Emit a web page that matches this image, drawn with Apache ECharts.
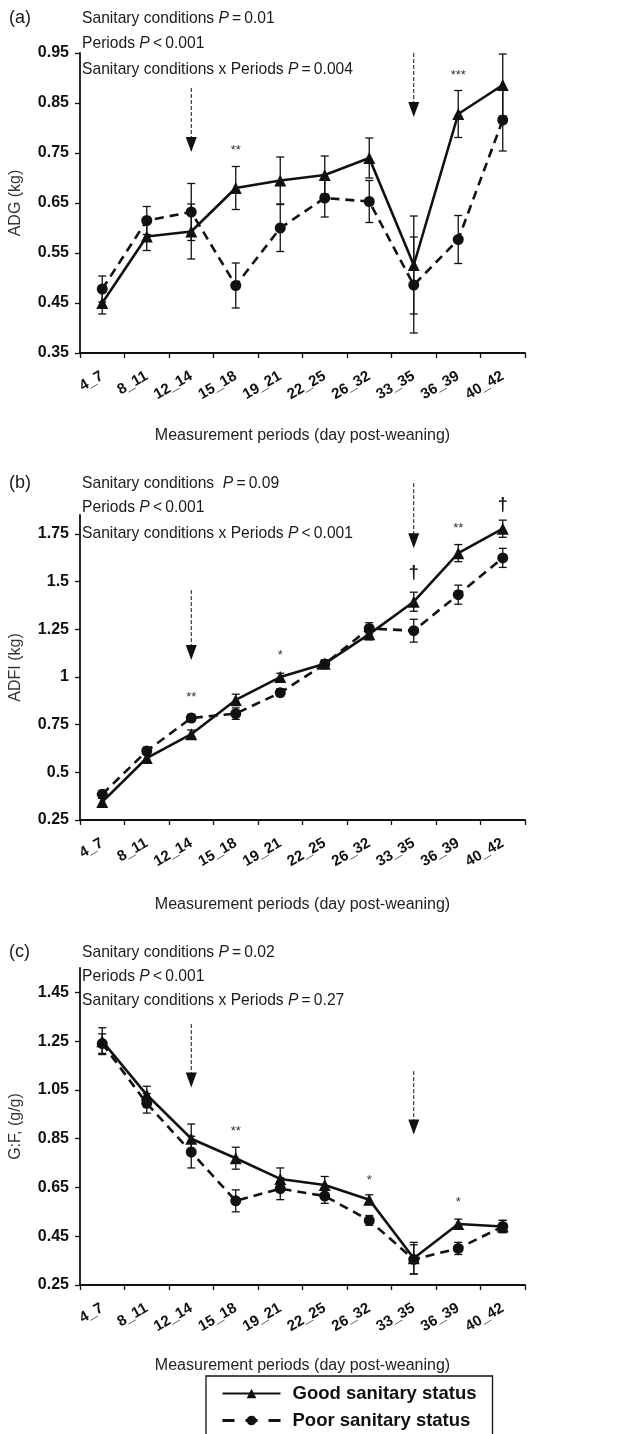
<!DOCTYPE html>
<html>
<head>
<meta charset="utf-8">
<script src="https://cdn.jsdelivr.net/npm/echarts@6.0.0/dist/echarts.min.js"></script>
<style>
  html, body { margin: 0; padding: 0; background: #fff; }
  #chart { width: 619px; height: 1434px; }
</style>
</head>
<body>
<div id="chart"></div>
<script>
const periods = ['4_7', '8_11', '12_14', '15_18', '19_21', '22_25', '26_32', '33_35', '36_39', '40_42'];

// (a) ADG, kg
const adgGood = [0.450, 0.583, 0.593, 0.680, 0.695, 0.706, 0.740, 0.526, 0.828, 0.886];
const adgGoodSe = [0.022, 0.028, 0.055, 0.043, 0.047, 0.038, 0.040, 0.098, 0.047, 0.062];
const adgPoor = [0.478, 0.615, 0.632, 0.485, 0.600, 0.660, 0.653, 0.486, 0.577, 0.816];
const adgPoorSe = [0.026, 0.028, 0.057, 0.045, 0.047, 0.038, 0.042, 0.096, 0.048, 0.062];
const adgTicks = [0.35, 0.45, 0.55, 0.65, 0.75, 0.85, 0.95];

// (b) ADFI, kg
const adfiGood = [0.345, 0.575, 0.700, 0.880, 1.000, 1.070, 1.225, 1.395, 1.650, 1.778];
const adfiGoodSe = [0.02, 0.02, 0.022, 0.03, 0.02, 0.02, 0.03, 0.05, 0.045, 0.045];
const adfiPoor = [0.385, 0.612, 0.785, 0.808, 0.918, 1.068, 1.255, 1.243, 1.432, 1.625];
const adfiPoorSe = [0.02, 0.02, 0.02, 0.03, 0.02, 0.02, 0.03, 0.06, 0.05, 0.05];
const adfiTicks = [0.25, 0.5, 0.75, 1, 1.25, 1.5, 1.75];

// (c) G:F, g/g
const gfGood = [1.250, 1.030, 0.850, 0.770, 0.685, 0.660, 0.600, 0.360, 0.500, 0.490];
const gfGoodSe = [0.055, 0.035, 0.06, 0.045, 0.045, 0.035, 0.02, 0.065, 0.02, 0.025];
const gfPoor = [1.240, 0.995, 0.795, 0.595, 0.645, 0.615, 0.515, 0.355, 0.400, 0.490];
const gfPoorSe = [0.04, 0.04, 0.065, 0.045, 0.045, 0.03, 0.02, 0.06, 0.025, 0.025];
const gfTicks = [0.25, 0.45, 0.65, 0.85, 1.05, 1.25, 1.45];

// significance marks [period, value, text]
const adgStars = [['15_18', 0.756, '**'], ['36_39', 0.906, '***']];
const adfiStars = [['12_14', 0.895, '**'], ['19_21', 1.115, '*'], ['33_35', 1.545, '†'], ['36_39', 1.78, '**'], ['40_42', 1.90, '†']];
const gfStars = [['15_18', 0.88, '**'], ['26_32', 0.68, '*'], ['36_39', 0.59, '*']];

// dashed arrows [period, top value, tip value]
const adgArrows = [['12_14', 0.88, 0.752], ['33_35', 0.95, 0.822]];
const adfiArrows = [['12_14', 1.456, 1.089], ['33_35', 2.017, 1.676]];
const gfArrows = [['12_14', 1.32, 1.06], ['33_35', 1.127, 0.867]];

const FONT = '"Liberation Sans", Arial, sans-serif';
const INK = '#111';

function errRender(params, api) {
  const i = api.value(0), m = api.value(1), e = api.value(2);
  const hi = api.coord([i, m + e]);
  const lo = api.coord([i, m - e]);
  const w = 4;
  const st = { stroke: INK, lineWidth: 1.3 };
  return {
    type: 'group',
    children: [
      { type: 'line', shape: { x1: hi[0], y1: hi[1], x2: lo[0], y2: lo[1] }, style: st },
      { type: 'line', shape: { x1: hi[0] - w, y1: hi[1], x2: hi[0] + w, y2: hi[1] }, style: st },
      { type: 'line', shape: { x1: lo[0] - w, y1: lo[1], x2: lo[0] + w, y2: lo[1] }, style: st }
    ]
  };
}

function arrowRender(params, api) {
  const top = api.coord([api.value(0), api.value(1)]);
  const tip = api.coord([api.value(0), api.value(2)]);
  const x = tip[0];
  return {
    type: 'group',
    children: [
      { type: 'line', shape: { x1: x, y1: top[1], x2: x, y2: tip[1] - 13 },
        style: { stroke: INK, lineWidth: 1, lineDash: [4, 2] } },
      { type: 'polygon', shape: { points: [[x - 5.5, tip[1] - 15], [x + 5.5, tip[1] - 15], [x, tip[1]]] },
        style: { fill: INK } }
    ]
  };
}

function starRender(list) {
  return function (params, api) {
    const p = api.coord([api.value(0), api.value(1)]);
    const t = list[params.dataIndex][2];
    const dag = t === '†';
    return {
      type: 'text',
      x: p[0], y: p[1],
      style: {
        text: t, fill: dag ? INK : '#333',
        font: (dag ? 'bold 18px ' : '13px ') + FONT,
        align: 'center', verticalAlign: 'middle'
      }
    };
  };
}

const grids = [], xAxes = [], yAxes = [], series = [];

function panel(k, cfg) {
  grids.push({ left: 74, width: 451, top: cfg.top, height: cfg.height });
  xAxes.push({
    gridIndex: k, type: 'category', data: periods, boundaryGap: true,
    name: 'Measurement periods (day post-weaning)', nameLocation: 'middle', nameGap: cfg.xGap,
    nameTextStyle: { fontFamily: FONT, fontSize: 16, color: '#222' },
    axisLine: { lineStyle: { color: INK, width: 1.8 } },
    axisTick: { show: true, length: 5, lineStyle: { color: INK, width: 1.3 } },
    axisLabel: { rotate: 30, margin: 22, fontFamily: FONT, fontSize: 15, fontWeight: 'bold', color: INK, interval: 0 },
    splitLine: { show: false }
  });
  yAxes.push({
    gridIndex: k, type: 'value', min: cfg.min, max: cfg.max,
    name: cfg.yName, nameLocation: 'middle', nameGap: 56,
    nameTextStyle: { fontFamily: FONT, fontSize: 16, color: '#333' },
    axisLine: { show: true, lineStyle: { color: INK, width: 1.8 } },
    axisTick: { show: true, length: 5, customValues: cfg.ticks, lineStyle: { color: INK, width: 1.3 } },
    axisLabel: { customValues: cfg.ticks, margin: 11, fontFamily: FONT, fontSize: 16, fontWeight: 'bold', color: INK },
    splitLine: { show: false }
  });
  const idx = (p) => periods.indexOf(p);
  series.push(
    {
      type: 'custom', xAxisIndex: k, yAxisIndex: k, renderItem: errRender, z: 2,
      data: cfg.good.map((v, i) => [i, v, cfg.goodSe[i]])
    },
    {
      type: 'custom', xAxisIndex: k, yAxisIndex: k, renderItem: errRender, z: 2,
      data: cfg.poor.map((v, i) => [i, v, cfg.poorSe[i]])
    },
    {
      name: 'Good sanitary status', type: 'line', xAxisIndex: k, yAxisIndex: k, z: 3,
      data: cfg.good, symbol: 'triangle', symbolSize: 12,
      itemStyle: { color: INK }, lineStyle: { color: INK, width: 2.6 }
    },
    {
      name: 'Poor sanitary status', type: 'line', xAxisIndex: k, yAxisIndex: k, z: 3,
      data: cfg.poor, symbol: 'circle', symbolSize: 11,
      itemStyle: { color: INK }, lineStyle: { color: INK, width: 2.6, type: [9, 6] }
    },
    {
      type: 'custom', xAxisIndex: k, yAxisIndex: k, renderItem: arrowRender, z: 4,
      data: cfg.arrows.map((a) => [idx(a[0]), a[1], a[2]])
    },
    {
      type: 'custom', xAxisIndex: k, yAxisIndex: k, renderItem: starRender(cfg.stars), z: 4,
      data: cfg.stars.map((s) => [idx(s[0]), s[1]])
    }
  );
}

panel(0, { top: 53, height: 300, min: 0.35, max: 0.95, ticks: adgTicks, yName: 'ADG (kg)', xGap: 75,
  good: adgGood, goodSe: adgGoodSe, poor: adgPoor, poorSe: adgPoorSe, stars: adgStars, arrows: adgArrows });
panel(1, { top: 515, height: 305, min: 0.25, max: 1.85, ticks: adfiTicks, yName: 'ADFI (kg)', xGap: 77,
  good: adfiGood, goodSe: adfiGoodSe, poor: adfiPoor, poorSe: adfiPoorSe, stars: adfiStars, arrows: adfiArrows });
panel(2, { top: 968, height: 317, min: 0.25, max: 1.55, ticks: gfTicks, yName: 'G:F, (g/g)', xGap: 73,
  good: gfGood, goodSe: gfGoodSe, poor: gfPoor, poorSe: gfPoorSe, stars: gfStars, arrows: gfArrows });

const rich = {
  n: { fontFamily: FONT, fontSize: 17, fill: '#1a1a1a' },
  i: { fontFamily: FONT, fontSize: 17, fontStyle: 'italic', fill: '#1a1a1a' }
};
function stat(y, label, rel, val) {
  return {
    type: 'text', x: 82, y: y, scaleX: 0.92,
    style: { text: '{n|' + label + '}{i|P}{n|' + rel + val + '}', rich: rich, verticalAlign: 'middle' }
  };
}
function tag(y, t) {
  return { type: 'text', x: 9, y: y, style: { text: t, font: '18px ' + FONT, fill: '#1a1a1a', verticalAlign: 'middle' } };
}

const graphic = [
  tag(18, '(a)'),
  stat(18, 'Sanitary conditions ', '\u2009=\u2009', '0.01'),
  stat(43, 'Periods ', '\u2009<\u2009', '0.001'),
  stat(69, 'Sanitary conditions x Periods ', '\u2009=\u2009', '0.004'),
  tag(483, '(b)'),
  stat(483, 'Sanitary conditions  ', '\u2009=\u2009', '0.09'),
  stat(507, 'Periods ', '\u2009<\u2009', '0.001'),
  stat(533, 'Sanitary conditions x Periods ', '\u2009<\u2009', '0.001'),
  tag(952, '(c)'),
  stat(952, 'Sanitary conditions ', '\u2009=\u2009', '0.02'),
  stat(976, 'Periods ', '\u2009<\u2009', '0.001'),
  stat(1000, 'Sanitary conditions x Periods ', '\u2009=\u2009', '0.27')
];

const chart = echarts.init(document.getElementById('chart'), null, { renderer: 'canvas' });
chart.setOption({
  backgroundColor: '#fff',
  animation: false,
  grid: grids,
  xAxis: xAxes,
  yAxis: yAxes,
  series: series,
  graphic: graphic,
  legend: {
    data: [
      { name: 'Good sanitary status' },
      { name: 'Poor sanitary status', lineStyle: { type: [12, 11], width: 3 } }
    ],
    orient: 'vertical', left: 206, top: 1376, height: 120,
    itemWidth: 58, itemHeight: 12, itemGap: 8,
    padding: [8, 16, 8, 15],
    borderColor: INK, borderWidth: 1.3,
    textStyle: { fontFamily: FONT, fontSize: 18.5, fontWeight: 'bold', color: INK, padding: [0, 0, 0, 7] }
  }
});
</script>
</body>
</html>
